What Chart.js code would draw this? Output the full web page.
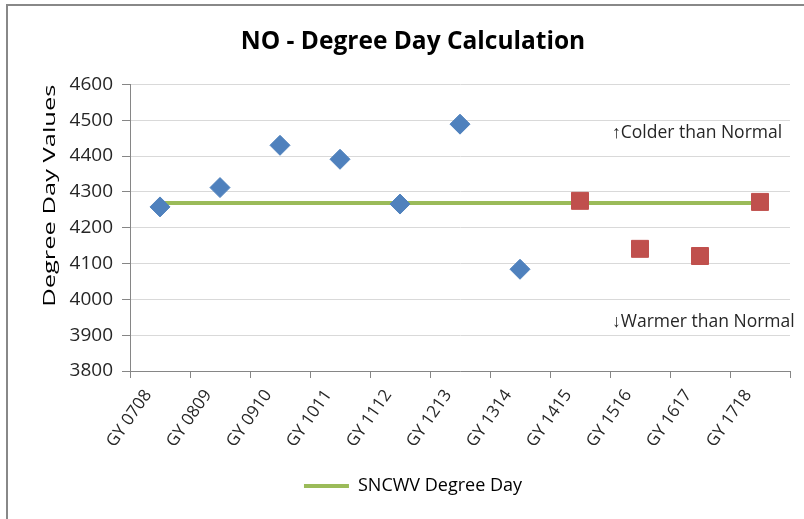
<!DOCTYPE html>
<html lang="en">
<head>
  <meta charset="UTF-8" />
  <title>NO - Degree Day Calculation</title>
  <script src="https://cdn.jsdelivr.net/npm/chart.js"></script>
  <style>
    html, body { margin: 0; padding: 0; background: #fff; }
    .wrap { position: relative; width: 804px; height: 519px; overflow: hidden; }
    .frame {
      position: absolute; left: 6px; top: 4px; width: 900px; height: 600px;
      border-left: 2px solid #888; border-top: 2px solid #888;
    }
    canvas { position: absolute; left: 0; top: 0; }
  </style>
</head>
<body>
  <div class="wrap">
    <div class="frame"></div>
    <canvas id="ddChart" width="804" height="519"></canvas>
  </div>

  <script>
    // chart values
    const categories = ['GY 0708', 'GY 0809', 'GY 0910', 'GY 1011', 'GY 1112', 'GY 1213',
                        'GY 1314', 'GY 1415', 'GY 1516', 'GY 1617', 'GY 1718'];
    const actualDD = [4258, 4312, 4430, 4391, 4266, 4489, 4084, null, null, null, null];
    const projectedDD = [null, null, null, null, null, null, null, 4275, 4141, 4121, 4272];
    const normalDD = [4269, 4269, 4269, 4269, 4269, 4269, 4269, 4269, 4269, 4269, 4269];
    const yTicks = { min: 3800, max: 4600, step: 100 };
    const notes = [
      { text: '\u2191Colder than Normal', value: 4463 },
      { text: '\u2193Warmer than Normal', value: 3937 }
    ];
    const yTitle = 'Degree Day Values';

    const FONT = "'Open Sans', 'Liberation Sans', sans-serif";
    const axisGray = '#868686';

    // text notes on the plot and the (stretched) y-axis title
    const notesPlugin = {
      id: 'notes',
      afterDatasetsDraw(chart) {
        const { ctx, chartArea, scales } = chart;
        ctx.save();
        ctx.font = '17.5px ' + FONT;
        ctx.fillStyle = '#262626';
        ctx.textAlign = 'left';
        ctx.textBaseline = 'middle';
        notes.forEach(n => {
          ctx.fillText(n.text, chartArea.right - 178, scales.y.getPixelForValue(n.value));
        });
        ctx.restore();

        // axis title, long like Excel's rotated label
        ctx.save();
        ctx.translate(50, (chartArea.top + chartArea.bottom) / 2 - 32);
        ctx.rotate(-Math.PI / 2);
        ctx.scale(1.5, 1);
        ctx.font = '17px ' + FONT;
        ctx.fillStyle = '#000';
        ctx.textAlign = 'center';
        ctx.textBaseline = 'middle';
        ctx.fillText(yTitle, 0, 0);
        ctx.restore();
      }
    };

    const ctx = document.getElementById('ddChart').getContext('2d');
    new Chart(ctx, {
      type: 'line',
      data: {
        labels: categories,
        datasets: [
          {
            label: 'Actual',
            data: actualDD,
            showLine: false,
            pointStyle: 'rectRot',
            pointRadius: 10,
            pointHoverRadius: 10,
            backgroundColor: '#4F81BD',
            borderColor: '#4F81BD',
            borderWidth: 1,
            order: 1
          },
          {
            label: 'Projected',
            data: projectedDD,
            showLine: false,
            pointStyle: 'rect',
            pointRadius: 12,
            pointHoverRadius: 12,
            backgroundColor: '#C0504D',
            borderColor: '#C0504D',
            borderWidth: 1,
            order: 2
          },
          {
            label: 'SNCWV Degree Day',
            data: normalDD,
            borderColor: '#9BBB59',
            backgroundColor: '#9BBB59',
            borderWidth: 4,
            pointRadius: 0,
            fill: false,
            order: 3
          }
        ]
      },
      options: {
        responsive: false,
        animation: false,
        layout: { padding: { left: 36, right: 14, top: 25, bottom: 14 } },
        scales: {
          x: {
            offset: true,
            afterFit: s => { s.height = 96; },
            grid: {
              offset: true,
              drawOnChartArea: false,
              drawTicks: true,
              tickLength: 7,
              tickColor: axisGray
            },
            border: { color: axisGray, width: 1 },
            ticks: {
              minRotation: 55,
              maxRotation: 55,
              color: '#262626',
              font: { family: FONT, size: 17 },
              padding: 8,
              labelOffset: -12
            }
          },
          y: {
            min: yTicks.min,
            max: yTicks.max,
            afterFit: s => { s.width = 94; },
            grid: {
              color: '#D9D9D9',
              lineWidth: 1,
              tickLength: 8,
              tickColor: axisGray
            },
            border: { color: axisGray, width: 1 },
            ticks: {
              stepSize: yTicks.step,
              color: '#262626',
              font: { family: FONT, size: 19 },
              padding: 9,
              callback: v => String(v)
            }
          }
        },
        plugins: {
          title: {
            display: true,
            text: 'NO - Degree Day Calculation',
            color: '#000',
            font: { family: FONT, size: 24.5, weight: 'bold' },
            padding: { top: 2, bottom: 28 }
          },
          legend: {
            position: 'bottom',
            labels: {
              color: '#262626',
              font: { family: FONT, size: 18 },
              boxWidth: 45,
              boxHeight: 4,
              padding: 10,
              generateLabels: chart => [{
                text: 'SNCWV Degree Day',
                fillStyle: '#9BBB59',
                strokeStyle: '#9BBB59',
                lineWidth: 0,
                datasetIndex: 2
              }]
            }
          },
          tooltip: { enabled: false }
        }
      },
      plugins: [notesPlugin]
    });
  </script>
</body>
</html>
